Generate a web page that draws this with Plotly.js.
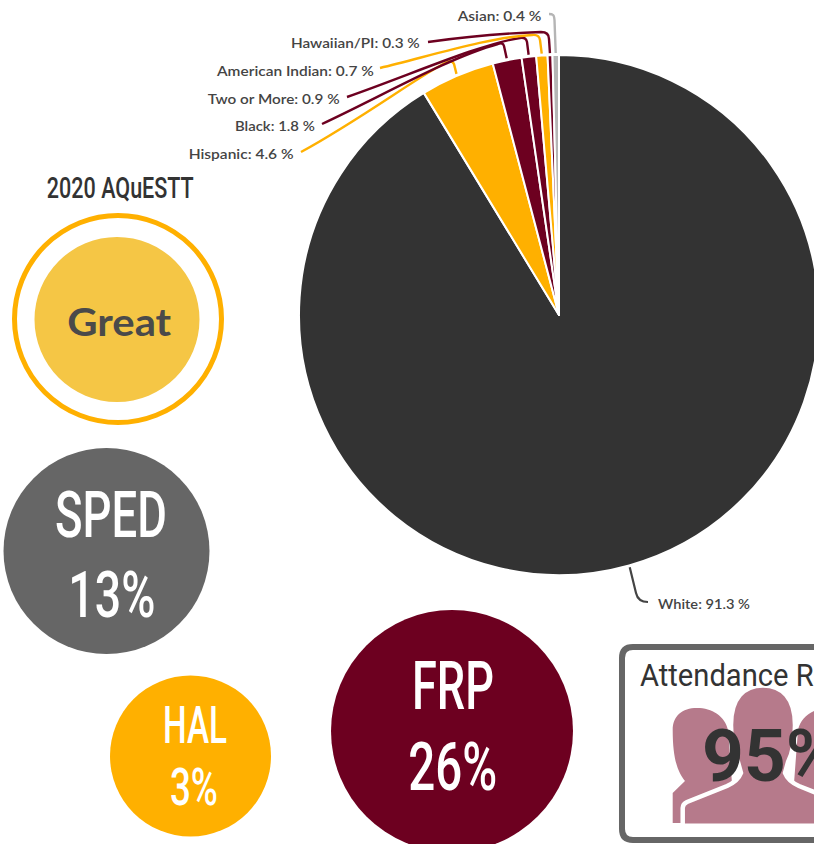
<!DOCTYPE html>
<html><head><meta charset="utf-8">
<script src="https://cdn.plot.ly/plotly-3.0.0.min.js"></script>
<style>html,body{margin:0;padding:0;background:#fff;overflow:hidden;width:814px;height:844px}</style>
</head><body><div id="chart"></div>
<script>
const groups = ['White','Hispanic','Black','Two or More','American Indian','Hawaiian/PI','Asian'];
const shares = [91.3,4.6,1.8,0.9,0.7,0.3,0.4];
const sliceColors = ['#333333','#ffb000','#6d0020','#6d0020','#ffb000','#6d0020','#b5b5b5'];
const badgeText = ['SPED','13%','HAL','3%','FRP','26%'];

const W=900,H=844;            // wider than the window so the pie and box run off the right edge
const cx=559,cy=315,R=259;
const px=x=>x/W, py=y=>1-y/H;
const P=(cmds)=>cmds.map(c=>c[0]+' '+c.slice(1).map((v,i)=>i%2===0?px(v).toFixed(5):py(v).toFixed(5)).join(' ')).join(' ');

function rim(i,extra){
  let before=0; for(let k=0;k<i;k++) before+=shares[k];
  const a=(before+shares[i]/2)/100*2*Math.PI, r=R+(extra||0);
  return [cx+r*Math.sin(a),cy-r*Math.cos(a)];
}
const shapes=[];
const circle=(x,y,r,fill,line,lw)=>shapes.push({type:'circle',xref:'paper',yref:'paper',
  x0:px(x-r),x1:px(x+r),y0:py(y+r),y1:py(y-r),fillcolor:fill,line:{color:line||fill,width:lw||0},layer:'above'});
const path=(cmds,fill,line,lw)=>shapes.push({type:'path',xref:'paper',yref:'paper',path:P(cmds),
  fillcolor:fill||'rgba(0,0,0,0)',line:{color:line||'rgba(0,0,0,0)',width:lw||0},layer:'above'});

const lead=(i,sx,sy,c1x,c1y,c2x,c2y,bx,by,qx,qy,dx,dy)=>{
  const [ex,ey]=rim(i,3);
  path([['M',sx,sy],['C',c1x,c1y,c2x,c2y,bx,by],['Q',qx,qy,dx,dy],['L',ex,ey]],null,sliceColors[i],2.4);
};
lead(1,301,152,360,120,420,75,447,62,452,60,454,64);
lead(2,322,124,380,97,450,57,498,44,503,42,504,46);
lead(3,347,97,410,75,480,44,520,38,526,37,527,42);
lead(4,380,68,430,56,490,37,532,35,539,34,540,40);
lead(5,428,42,470,36,510,33,541,32,549,32,549,39);
lead(6,549,14,551,14,552,14,553,15,554,15,554.5,20);
{ const [ex,ey]=rim(0,3);
  path([['M',ex,ey],['L',636,593],['Q',638,602,648,602]],null,'#444444',2.2); }

circle(118,319,103.5,'#ffffff','#ffb000',5);
circle(117,319.5,82.5,'#f5c645');
circle(106.5,551,103,'#666666');
circle(190.5,756,80.5,'#ffb000');
circle(452,731,121,'#6d0020');

shapes.push({type:'path',xref:'paper',yref:'paper',layer:'above',fillcolor:'#ffffff',line:{color:'#666666',width:6},
  path:P([['M',622,658],['Q',622,647,633,647],['L',890,647],['L',890,840],['L',633,840],['Q',622,840,622,829],['Z']])});
const pink='#b67a8b';
path([['M',672.7,823],['L',672.7,793],['L',685,781],['C',678,772,672.7,760,672.7,730],['C',672.7,716,682,708,697,708],['C',712,708,725,716,728,730],['L',735,823],['Z']],pink);
path([['M',853.3,823],['L',853.3,793],['L',841,781],['C',848,772,853.3,760,853.3,730],['C',853.3,716,844,708,829,708],['C',814,708,801,716,798,730],['L',791,823],['Z']],pink);
path([['M',682.7,828],['L',682.7,808],['Q',682.7,804,687,802],['L',727,786],['Q',738,781,741,773],['L',738,762],['C',733,752,731,740,731,725],['C',731,698,744,685.5,763,685.5],['C',782,685.5,795,698,795,725],['C',795,740,793,752,788,762],['L',785,773],['Q',788,781,799,786],['L',839,802],['Q',843.3,804,843.3,808],['L',843.3,828],['Z']],pink,'#ffffff',4.5);
shapes.push({type:'rect',xref:'paper',yref:'paper',x0:px(672),x1:px(860),y0:py(829),y1:py(823.5),fillcolor:'#ffffff',line:{width:0},layer:'above'});

const narrow='Roboto, sans-serif';
const ann=[], fit=[];
const T=(text,x,y,size,color,family,anchor,weight,target)=>{ann.push({text,x:px(x),y:py(y),xref:'paper',yref:'paper',showarrow:false,
  xanchor:anchor||'center',yanchor:'middle',font:{size,color,family,weight:weight||400},borderpad:0});fit.push(target);};
const lab=i=>groups[i]+': '+shares[i].toFixed(1)+' %';
const pos=[[657,603,'left',92],[295,153,'right',105],[316,125,'right',80],[341,98,'right',132],[375,71,'right',158],[421,43,'right',129],[543,16,'right',85]];
groups.forEach((g,i)=>T(lab(i),pos[i][0],pos[i][1],14,'#444444','Lato, sans-serif',pos[i][2],600,pos[i][3]));
T('2020 AQuESTT',120,188,30,'#333333',narrow,'center',500,147);
T('Great',119,321,38,'#4a4a4a','Lato, sans-serif','center',700,104);
T(badgeText[0],111,515,65,'#ffffff',narrow,'center',500,112);
T(badgeText[1],111.5,595,65,'#ffffff',narrow,'center',500,87);
T(badgeText[2],195,725,52,'#ffffff',narrow,'center',500,64);
T(badgeText[3],194,787,52,'#ffffff',narrow,'center',500,48);
T(badgeText[4],453,686.5,66,'#ffffff',narrow,'center',500,82);
T(badgeText[5],452.5,767.5,66,'#ffffff',narrow,'center',500,89);
T('Attendance Rate',639,675,31,'#333333',narrow,'left',400,-0.94);
T('95%',701,756,73,'#333333','Roboto, sans-serif','left',700);

const gd=document.getElementById('chart');
Plotly.newPlot(gd,[{type:'pie',labels:groups,values:shares,sort:false,direction:'clockwise',rotation:0,
  marker:{colors:sliceColors,line:{color:'#ffffff',width:2}},textinfo:'none',hoverinfo:'skip',showlegend:false,
  domain:{x:[px(cx-R-1),px(cx+R+1)],y:[py(cy+R+1),py(cy-R-1)]}}],
  {width:W,height:H,margin:{l:0,r:0,t:0,b:0},paper_bgcolor:'#ffffff',showlegend:false,shapes,annotations:ann},
  {displayModeBar:false,staticPlot:true}).then(()=>{
  gd.querySelectorAll('.annotation').forEach((g,i)=>{
    const t=fit[i]; if(!t) return;
    const el=g.querySelector('text'); const b=el.getBBox();
    const k=t<0?-t:t/b.width;
    const a=ann[i].xanchor; const ox=a==='left'?b.x:a==='right'?b.x+b.width:b.x+b.width/2;
    const prev=el.getAttribute('transform')||'';
    el.setAttribute('transform',prev+` translate(${ox} 0) scale(${k} 1) translate(${-ox} 0)`);
  });
});
</script></body></html>
